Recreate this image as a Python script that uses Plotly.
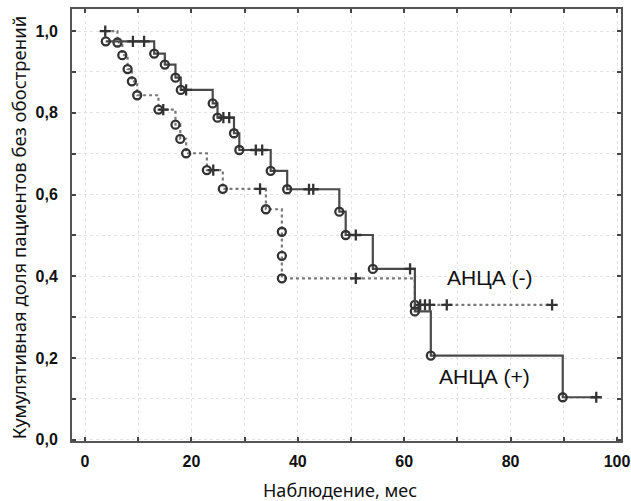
import plotly.graph_objects as go

# АНЦА (+) group — solid line
pos_time = [3.9, 9.0, 11.1, 13.0, 15.0, 17.0, 18.0, 19.0, 24.0, 24.9, 26.0, 27.1, 28.0, 29.0,
            32.1, 33.3, 34.9, 38.0, 42.1, 42.9, 47.8, 49.0, 50.9, 54.1, 61.1, 62.0, 65.0, 89.8, 96.1]
pos_surv = [0.975, 0.975, 0.975, 0.945, 0.918, 0.886, 0.856, 0.856, 0.823, 0.788, 0.788, 0.788, 0.75, 0.709,
            0.709, 0.709, 0.658, 0.613, 0.613, 0.613, 0.558, 0.501, 0.501, 0.418, 0.418, 0.314, 0.206, 0.104, 0.104]
pos_cens = [0, 1, 1, 0, 0, 0, 0, 1, 0, 0, 1, 1, 0, 0,
            1, 1, 0, 0, 1, 1, 0, 0, 1, 0, 1, 0, 0, 0, 1]

# АНЦА (-) group — dotted line
neg_time = [3.8, 6.1, 7.0, 8.0, 8.8, 9.8, 13.8, 14.7, 17.0, 17.9, 19.0, 22.9, 24.1, 25.9,
            32.9, 34.0, 37.0, 37.0, 37.0, 50.9, 62.0, 63.0, 63.9, 64.8, 68.0, 87.8]
neg_surv = [1.0, 0.972, 0.941, 0.907, 0.877, 0.843, 0.808, 0.808, 0.771, 0.736, 0.701, 0.66, 0.66, 0.614,
            0.614, 0.564, 0.509, 0.45, 0.395, 0.395, 0.33, 0.33, 0.33, 0.33, 0.33, 0.33]
neg_cens = [1, 0, 0, 0, 0, 0, 0, 1, 0, 0, 0, 0, 1, 0,
            1, 0, 0, 0, 0, 1, 0, 1, 1, 1, 1, 1]

x_ticks = [0, 10, 20, 30, 40, 50, 60, 70, 80, 90, 100]
x_ticktext = ["0", "", "20", "", "40", "", "60", "", "80", "", "100"]
y_ticks = [0.0, 0.1, 0.2, 0.3, 0.4, 0.5, 0.6, 0.7, 0.8, 0.9, 1.0]
y_ticktext = ["0,0", "", "0,2", "", "0,4", "", "0,6", "", "0,8", "", "1,0"]

MARK = "#333333"
fig = go.Figure()


def add_curve(t, s, c, dash, lcolor):
    fig.add_trace(go.Scatter(x=t, y=s, mode="lines", line=dict(shape="hv", color=lcolor, width=2.2, dash=dash),
                             hoverinfo="skip", showlegend=False))
    ev_t = [a for a, k in zip(t, c) if k == 0]
    ev_s = [b for b, k in zip(s, c) if k == 0]
    ce_t = [a for a, k in zip(t, c) if k == 1]
    ce_s = [b for b, k in zip(s, c) if k == 1]
    fig.add_trace(go.Scatter(x=ev_t, y=ev_s, mode="markers",
                             marker=dict(symbol="circle-open", size=8, color=MARK, line=dict(width=2.3, color=MARK)),
                             showlegend=False))
    fig.add_trace(go.Scatter(x=ce_t, y=ce_s, mode="markers",
                             marker=dict(symbol="cross-thin-open", size=8, color=MARK, line=dict(width=2.3, color=MARK)),
                             showlegend=False))


add_curve(neg_time, neg_surv, neg_cens, "dot", "#7a7a7a")
add_curve(pos_time, pos_surv, pos_cens, "solid", "#4a4a4a")

fig.add_annotation(x=76.1, y=0.396, text="АНЦА (-)", showarrow=False,
                   font=dict(family="Liberation Sans, Arial", size=21, color="#111"))
fig.add_annotation(x=75.0, y=0.154, text="АНЦА (+)", showarrow=False,
                   font=dict(family="Liberation Sans, Arial", size=21, color="#111"))

# axis titles as paper-positioned annotations
fig.add_annotation(xref="paper", yref="paper", x=0.488, y=-0.113, text="Наблюдение, мес", showarrow=False,
                   xanchor="center", yanchor="middle",
                   font=dict(family="Noto Sans", size=18, color="#111"))
fig.add_annotation(xref="paper", yref="paper", x=-0.098, y=0.493, text="Кумулятивная доля пациентов без обострений",
                   showarrow=False, textangle=-90, xanchor="center", yanchor="middle",
                   font=dict(family="Noto Sans", size=18.5, color="#111"))

axis_common = dict(showline=True, linecolor="#555", linewidth=2, mirror="ticks",
                   ticks="inside", ticklen=4, tickcolor="#444", tickwidth=1.5,
                   showgrid=True, gridcolor="#e4e4e4", griddash="dot", gridwidth=1,
                   zeroline=False, automargin=False,
                   tickfont=dict(family="Liberation Sans", size=16, color="#111", weight="bold"))

fig.update_xaxes(range=[-2.45, 100.75], tickvals=x_ticks, ticktext=x_ticktext, ticklabelstandoff=5,
                 **axis_common)
fig.update_yaxes(range=[-0.003, 1.054], tickvals=y_ticks, ticktext=y_ticktext, ticklabelstandoff=9,
                 **axis_common)

fig.update_layout(template="none", width=631, height=501, margin=dict(l=72, r=10, t=9, b=60, autoexpand=False),
                  plot_bgcolor="white", paper_bgcolor="white", showlegend=False)

# remove the browser's default 8px body margin so the figure fills the window exactly
fig.write_html("out.html", config={"displayModeBar": False},
               post_script="document.body.style.margin='0';document.body.style.overflow='hidden';")
